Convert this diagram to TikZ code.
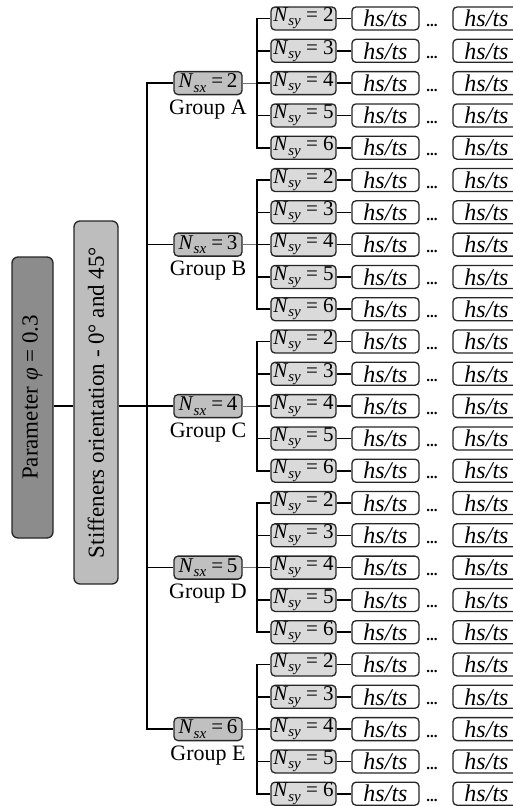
\documentclass[tikz,border=0pt]{standalone}
\usepackage{fontspec}
\usepackage{graphicx}
\setmainfont{Liberation Serif}
\definecolor{pgray}{HTML}{8C8C8C}
\definecolor{sgray}{HTML}{BDBDBD}
\definecolor{nsxgray}{HTML}{C0C0C0}
\definecolor{nsygray}{HTML}{DADADA}
\newcommand\sbs[1]{\raisebox{-0.2em}{\fontsize{15}{15}\selectfont\itshape #1}}
\begin{document}
\begin{tikzpicture}[x=1pt,y=-1pt,
  box/.style={draw=black!85, line width=1.3pt, rounded corners=4pt, inner sep=0pt, anchor=center},
  bigbox/.style={box, rounded corners=6pt, font=\fontsize{23}{26}\selectfont},
  nsxbox/.style={box, fill=nsxgray, minimum width=68pt, minimum height=23pt, font=\fontsize{21}{24}\selectfont},
  nsybox/.style={box, fill=nsygray, minimum width=65pt, minimum height=23pt, font=\fontsize{21}{24}\selectfont},
  hsbox/.style={box, fill=white, minimum width=67pt, minimum height=23pt, font=\fontsize{24}{26}\selectfont\itshape},
  grouplab/.style={font=\fontsize{22}{24}\selectfont, inner sep=0pt},
  dots/.style={font=\fontsize{15}{15}\selectfont\bfseries, inner sep=0pt},
  conn/.style={line width=1.6pt, black},
  lightconn/.style={line width=1.2pt, black!55}]
\useasboundingbox (0,0) rectangle (513,806);

\node[bigbox, fill=pgray, minimum width=41pt, minimum height=281pt] (p) at (32.5,397.5)
  {\rotatebox{90}{Parameter \textit{φ} = 0.3}};
\node[bigbox, fill=sgray, minimum width=44pt, minimum height=363pt] (s) at (96,402.5)
  {\rotatebox{90}{Stiffeners orientation - 0° and 45°}};

\coordinate (mt) at (147,406);
\draw[conn] (p.east |- mt) -- (s.west |- mt);
\draw[conn] (s.east |- mt) -- (mt);

\foreach \g/\lab [count=\gi from 0] in {2/A,3/B,4/C,5/D,6/E} {
  \pgfmathsetmacro\yc{18.5+(\gi*5+2)*32.3}
  \node[nsxbox] (x\lab) at (208,\yc) {\textit{N}\sbs{sx} =\,\g};
  \node[grouplab] (gl\lab) at (208,\yc+26) {Group \lab};
  \coordinate (t\lab) at (257,\yc);
  \draw[conn] (mt) |- (x\lab.west);
  \draw[lightconn] (x\lab.east) -- (t\lab);
  \foreach \r in {0,...,4} {
    \pgfmathsetmacro\yr{18.5+(\gi*5+\r)*32.3}
    \pgfmathtruncatemacro\ny{\r+2}
    \node[nsybox] (y\lab\r) at (303.5,\yr) {\textit{N}\sbs{sy} = \ny};
    \node[hsbox] (h\lab\r) at (385.5,\yr) {hs/ts};
    \node[hsbox] (k\lab\r) at (486.5,\yr) {hs/ts};
    \node[dots] (d\lab\r) at (432,\yr+7) {...};
    \draw[conn] (t\lab) |- (y\lab\r.west);
    \draw[conn] (y\lab\r.east) -- (h\lab\r.west);
  }
}
\end{tikzpicture}
\end{document}
